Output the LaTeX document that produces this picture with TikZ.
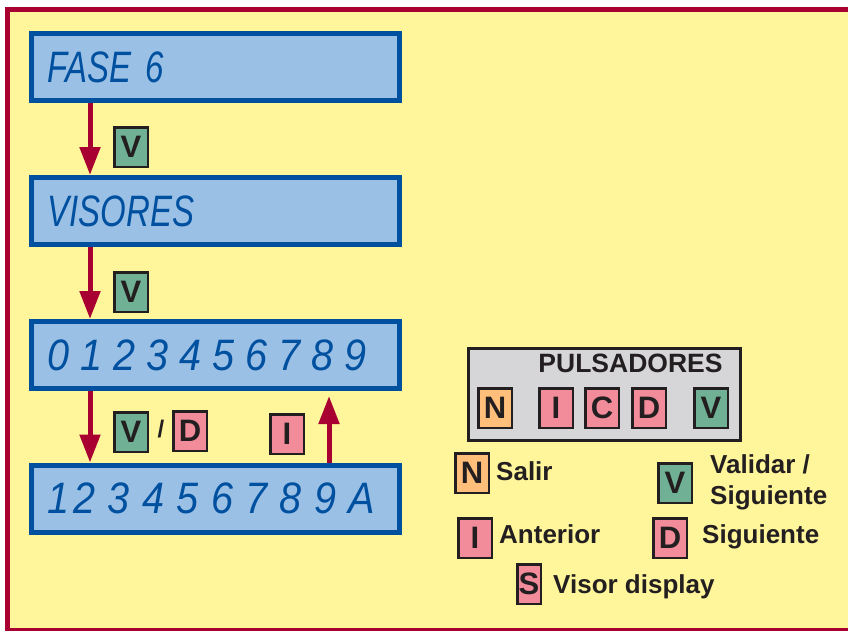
\documentclass[tikz,border=0pt]{standalone}
\usepackage{fontspec}
\setmainfont{Liberation Sans}
\newfontfamily\lcdword{Liberation Sans}[FakeStretch=0.75]
\newfontfamily\lcddigit{Liberation Sans}[FakeStretch=0.9]
\usetikzlibrary{arrows.meta}
\definecolor{paper}{RGB}{255, 245, 155}
\definecolor{crimson}{RGB}{168, 0, 48}
\definecolor{lcdblue}{RGB}{0, 80, 160}
\definecolor{lcdfill}{RGB}{155, 192, 230}
\definecolor{keygreen}{RGB}{112, 176, 148}
\definecolor{keypink}{RGB}{242, 139, 154}
\definecolor{keyorange}{RGB}{255, 190, 122}
\definecolor{panel}{RGB}{214, 214, 216}
\definecolor{ink}{RGB}{35, 31, 32}
% one fixed-width cell per character on the display
\newcommand{\lcdcells}[2]{\foreach \ch in {#2}{\makebox[#1][l]{\ch}}}
\tikzset{
    lcd/.style={draw=lcdblue, line width=5pt, fill=lcdfill, minimum height=67pt,
        inner xsep=16pt, inner ysep=0pt, text width=336pt, align=left,
        text=lcdblue, font=\lcdword\itshape\fontsize{44}{44}\selectfont},
    key/.style={draw=ink, line width=2.5pt, minimum width=33.5pt,
        minimum height=39.5pt, inner sep=0pt, text=ink,
        font=\bfseries\fontsize{31}{31}\selectfont},
    greenkey/.style={key, fill=keygreen},
    pinkkey/.style={key, fill=keypink},
    orangekey/.style={key, fill=keyorange},
    legend/.style={anchor=base west, inner sep=0pt, text=ink,
        font=\bfseries\fontsize{26}{31}\selectfont},
    flow/.style={draw=crimson, line width=5pt,
        -{Triangle[length=28pt, width=20pt]}}
}

\begin{document}
\begin{tikzpicture}[x=1pt, y=-1pt]
    \clip (0, 0) rectangle (848, 630);
    \draw[crimson, line width=5pt, fill=paper] (7.5, 9) rectangle (870, 630.5);

    \node[lcd] (fase) at (215.5, 67) {FASE 6};
    \node[lcd] (visores) at (215.5, 211) {VISORES};
    \node[lcd] (lista0) at (215.5, 355)
        {\lcddigit\lcdcells{33pt}{0,1,2,3,4,5,6,7,8,9}};
    \node[lcd] (lista1) at (215.5, 498.5)
        {\lcddigit\makebox[26pt][l]{1}\lcdcells{34.4pt}{2,3,4,5,6,7,8,9,A}};

    \node[greenkey] (v1) at (131, 147) {V};
    \node[greenkey] (v2) at (131, 292) {V};
    \node[greenkey] (v3) at (131, 432) {V};
    \node[text=ink, font=\bfseries\fontsize{24}{24}\selectfont] (slash)
        at (161, 429) {/};
    \node[pinkkey] (d1) at (190, 431) {D};
    \node[pinkkey] (i1) at (287, 434) {I};

    \draw[flow] ([xshift=61pt]fase.south west) -- ([xshift=61pt]visores.north west);
    \draw[flow] ([xshift=61pt]visores.south west) -- ([xshift=61pt]lista0.north west);
    \draw[flow] ([xshift=61pt]lista0.south west) -- ([xshift=61pt]lista1.north west);
    \draw[flow] ([xshift=300pt]lista1.north west)
        -- ([xshift=300pt, yshift=-5pt]lista0.south west);

    \node[draw=ink, line width=3pt, fill=panel, minimum width=272pt,
        minimum height=92pt] (panel) at (604.5, 394.5) {};
    \node[text=ink, font=\bfseries\fontsize{26.5}{26.5}\selectfont] (title)
        at (630.5, 363) {PULSADORES};
    \node[orangekey] (pn) at (495, 408) {N};
    \node[pinkkey] (pi) at (556, 408) {I};
    \node[pinkkey] (pc) at (602, 408) {C};
    \node[pinkkey] (pd) at (649, 408) {D};
    \node[greenkey] (pv) at (711, 408) {V};

    \node[orangekey] (ln) at (472, 473) {N};
    \node[legend] (salir) at (496, 480.5) {Salir};
    \node[greenkey] (lv) at (675, 483) {V};
    \node[legend, anchor=west, align=left] (validar) at (710, 482)
        {Validar /\\Siguiente};
    \node[pinkkey] (li) at (475, 538) {I};
    \node[legend] (anterior) at (499, 543) {Anterior};
    \node[pinkkey] (ld) at (670, 538) {D};
    \node[legend] (siguiente) at (702, 543) {Siguiente};
    \node[pinkkey, minimum width=23.5pt] (ls) at (529, 584) {S};
    \node[legend] (visor) at (553, 593) {Visor display};
\end{tikzpicture}
\end{document}
